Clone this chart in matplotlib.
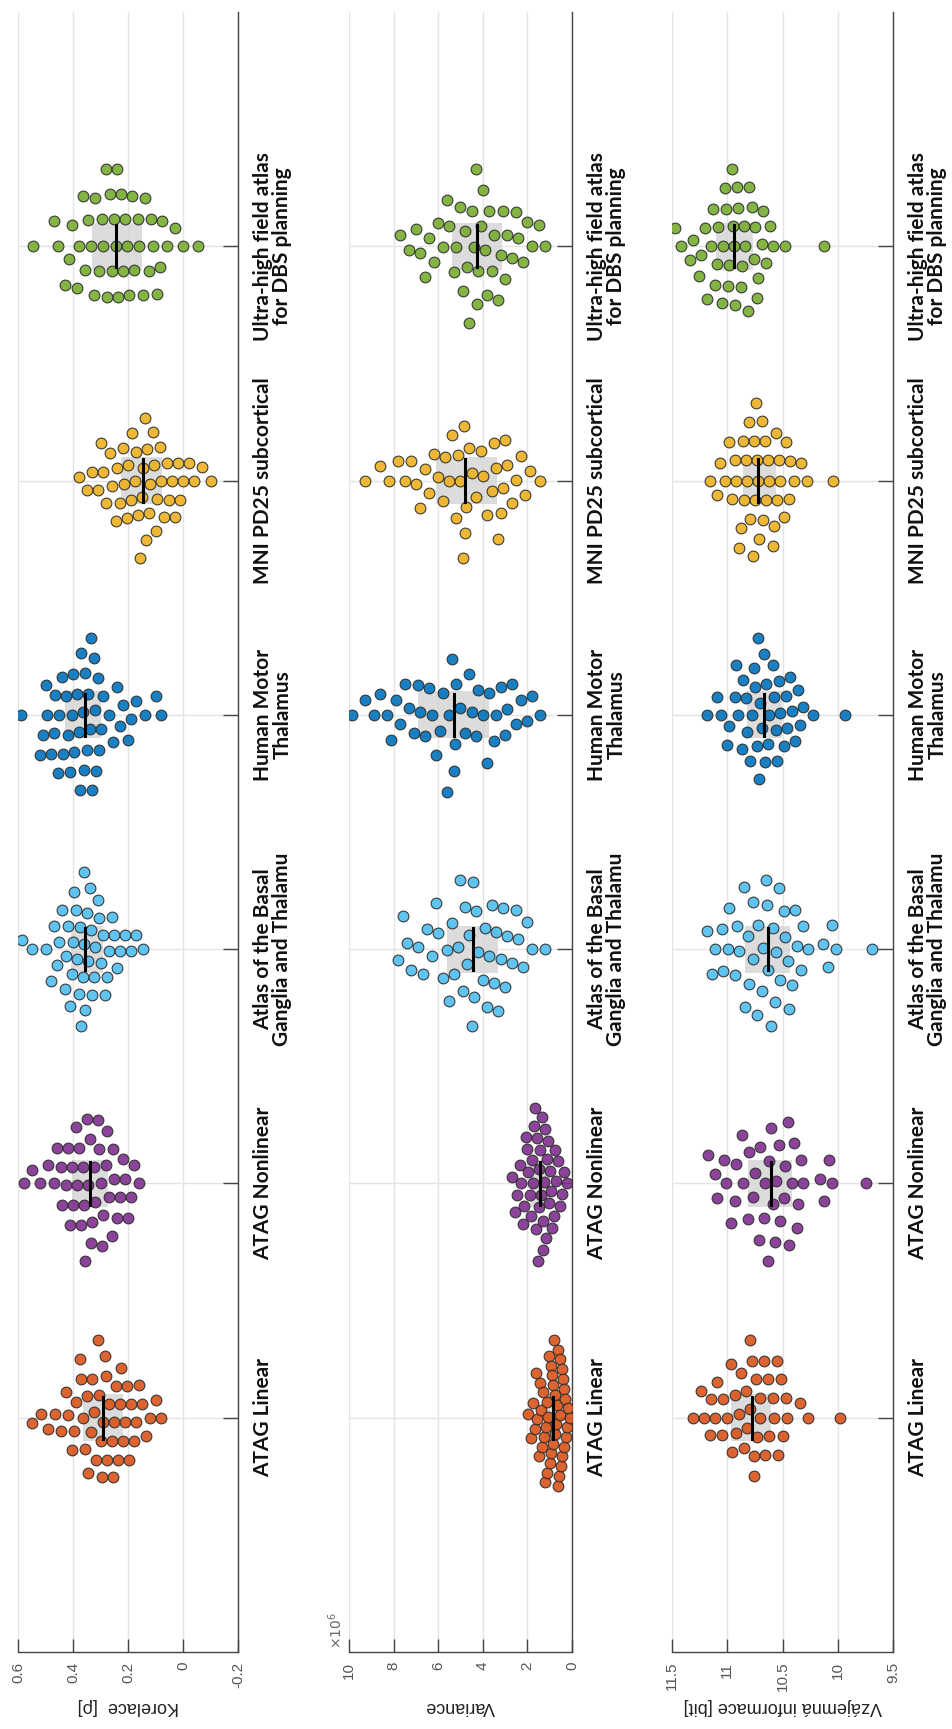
import matplotlib
matplotlib.use("Agg")
import matplotlib.pyplot as plt
import numpy as np

plt.rcParams['font.family'] = ['Liberation Sans', 'DejaVu Sans']
plt.rcParams['mathtext.fontset'] = 'dejavusans'

# atlases, bottom to top
atlases = ['ATAG Linear', 'ATAG Nonlinear', 'Atlas of the Basal\nGanglia and Thalamu',
           'Human Motor\nThalamus', 'MNI PD25 subcortical',
           'Ultra-high field atlas\nfor DBS planning']
colors = ['#D95319', '#7E2F8E', '#4DBEEE', '#0072BD', '#EDB120', '#77AC30']

# correlation [rho]
kor_atag_lin = [0.55, 0.515, 0.49, 0.465, 0.445, 0.425, 0.42, 0.405, 0.395, 0.39, 0.375, 0.37,
                0.365, 0.355, 0.35, 0.345, 0.335, 0.33, 0.325, 0.315, 0.31, 0.305, 0.3, 0.295,
                0.29, 0.285, 0.28, 0.275, 0.27, 0.26, 0.255, 0.25, 0.245, 0.235, 0.23, 0.225,
                0.22, 0.21, 0.205, 0.195, 0.19, 0.18, 0.17, 0.16, 0.15, 0.135, 0.12, 0.1, 0.08]
kor_atag_nonlin = [0.58, 0.55, 0.52, 0.49, 0.47, 0.46, 0.445, 0.44, 0.425, 0.42, 0.41, 0.405, 0.4,
                   0.39, 0.385, 0.38, 0.37, 0.365, 0.36, 0.355, 0.35, 0.345, 0.34, 0.335, 0.33,
                   0.325, 0.32, 0.31, 0.305, 0.3, 0.295, 0.29, 0.28, 0.275, 0.27, 0.26, 0.255,
                   0.25, 0.24, 0.23, 0.22, 0.21, 0.2, 0.19, 0.18, 0.16]
kor_basal = [0.585, 0.55, 0.50, 0.48, 0.47, 0.46, 0.45, 0.44, 0.43, 0.425, 0.42, 0.41, 0.405,
             0.4, 0.395, 0.39, 0.385, 0.38, 0.375, 0.37, 0.365, 0.36, 0.36, 0.355, 0.35, 0.345,
             0.34, 0.335, 0.33, 0.325, 0.32, 0.31, 0.305, 0.3, 0.29, 0.285, 0.275, 0.27, 0.26,
             0.25, 0.24, 0.23, 0.21, 0.19, 0.17, 0.145]
kor_hmt = [0.59, 0.52, 0.51, 0.5, 0.495, 0.48, 0.47, 0.465, 0.455, 0.45, 0.44, 0.435, 0.425,
           0.42, 0.41, 0.405, 0.4, 0.395, 0.385, 0.38, 0.375, 0.37, 0.365, 0.36, 0.355, 0.35,
           0.345, 0.34, 0.335, 0.33, 0.325, 0.32, 0.315, 0.31, 0.305, 0.3, 0.29, 0.27, 0.255,
           0.24, 0.23, 0.22, 0.2, 0.19, 0.17, 0.14, 0.1, 0.08]
kor_pd25 = [0.38, 0.35, 0.33, 0.31, 0.3, 0.29, 0.28, 0.265, 0.26, 0.245, 0.24, 0.23, 0.22, 0.215,
            0.205, 0.2, 0.19, 0.185, 0.175, 0.17, 0.165, 0.155, 0.15, 0.145, 0.14, 0.135, 0.13,
            0.125, 0.12, 0.11, 0.105, 0.1, 0.095, 0.085, 0.08, 0.07, 0.06, 0.05, 0.04, 0.03,
            0.02, 0.01, 0.0, -0.02, -0.04, -0.07, -0.1]
kor_uhf = [0.545, 0.47, 0.455, 0.43, 0.415, 0.405, 0.385, 0.38, 0.365, 0.355, 0.345, 0.335,
           0.325, 0.32, 0.305, 0.295, 0.29, 0.28, 0.275, 0.265, 0.26, 0.25, 0.245, 0.24, 0.235,
           0.225, 0.22, 0.21, 0.205, 0.195, 0.185, 0.18, 0.165, 0.16, 0.145, 0.14, 0.125,
           0.115, 0.11, 0.095, 0.085, 0.075, 0.06, 0.03, 0.0, -0.055]

# variance, in units of 1e6
var_atag_lin = [1.97, 1.85, 1.75, 1.68, 1.60, 1.55, 1.50, 1.45, 1.40, 1.35, 1.30, 1.26, 1.22, 1.18,
                1.14, 1.10, 1.06, 1.02, 0.98, 0.95, 0.92, 0.89, 0.86, 0.83, 0.80, 0.77, 0.74, 0.71,
                0.68, 0.65, 0.62, 0.59, 0.56, 0.53, 0.50, 0.47, 0.44, 0.41, 0.38, 0.35, 0.31, 0.27,
                0.22, 0.16, 0.09]
var_atag_nonlin = [2.69, 2.55, 2.45, 2.35, 2.28, 2.20, 2.14, 2.08, 2.02, 1.96, 1.90, 1.85, 1.80, 1.75,
                   1.70, 1.66, 1.62, 1.58, 1.54, 1.50, 1.47, 1.44, 1.40, 1.36, 1.32, 1.28, 1.24, 1.20,
                   1.16, 1.12, 1.08, 1.03, 0.98, 0.93, 0.88, 0.82, 0.76, 0.70, 0.62, 0.54, 0.45, 0.35,
                   0.22]
var_basal = [7.8, 7.6, 7.4, 7.2, 6.9, 6.7, 6.5, 6.3, 6.1, 6.0, 5.8, 5.6, 5.5, 5.4, 5.3, 5.1, 5.0,
             4.9, 4.8, 4.7, 4.6, 4.5, 4.45, 4.4, 4.3, 4.2, 4.0, 3.9, 3.8, 3.7, 3.6, 3.5, 3.4, 3.3,
             3.2, 3.1, 3.0, 2.9, 2.7, 2.5, 2.4, 2.2, 2.0, 1.8, 1.2]
var_hmt = [9.87, 9.3, 8.9, 8.6, 8.3, 8.1, 7.9, 7.7, 7.5, 7.3, 7.1, 6.9, 6.8, 6.6, 6.4, 6.3, 6.1,
           5.9, 5.8, 5.6, 5.5, 5.4, 5.3, 5.25, 5.2, 5.0, 4.8, 4.6, 4.5, 4.3, 4.2, 4.0, 3.8, 3.7,
           3.5, 3.4, 3.2, 3.0, 2.9, 2.7, 2.5, 2.3, 2.0, 1.8, 1.44]
var_pd25 = [9.3, 8.6, 8.2, 7.8, 7.5, 7.2, 7.0, 6.8, 6.6, 6.4, 6.2, 6.0, 5.8, 5.7, 5.5, 5.4, 5.2,
            5.1, 5.0, 4.9, 4.85, 4.8, 4.75, 4.6, 4.5, 4.3, 4.1, 4.0, 3.8, 3.6, 3.5, 3.4, 3.3, 3.2,
            3.1, 3.0, 2.9, 2.7, 2.5, 2.3, 2.1, 1.9, 1.44]
var_uhf = [7.7, 7.3, 7.0, 6.8, 6.6, 6.4, 6.2, 6.0, 5.8, 5.6, 5.5, 5.3, 5.2, 5.0, 4.9, 4.8, 4.7,
           4.6, 4.5, 4.4, 4.3, 4.26, 4.2, 4.1, 4.0, 3.9, 3.8, 3.7, 3.6, 3.5, 3.3, 3.2, 3.1, 3.0,
           2.9, 2.7, 2.5, 2.4, 2.2, 2.0, 1.8, 1.5, 1.2]

# mutual information [bit]
mi_atag_lin = [11.31, 11.24, 11.21, 11.16, 11.15, 11.11, 11.09, 11.05, 11.04, 11.0, 10.97, 10.96,
               10.93, 10.92, 10.89, 10.88, 10.85, 10.83, 10.82, 10.79, 10.79, 10.78, 10.76, 10.76,
               10.74, 10.73, 10.7, 10.7, 10.67, 10.66, 10.63, 10.62, 10.59, 10.58, 10.55, 10.54,
               10.51, 10.5, 10.47, 10.46, 10.34, 10.27, 9.98]
mi_atag_nonlin = [11.17, 11.11, 11.09, 11.03, 11.01, 10.97, 10.93, 10.92, 10.87, 10.86, 10.81, 10.8,
                  10.77, 10.75, 10.71, 10.7, 10.67, 10.66, 10.63, 10.62, 10.6, 10.59, 10.57, 10.56,
                  10.53, 10.52, 10.49, 10.48, 10.45, 10.44, 10.41, 10.4, 10.37, 10.36, 10.33, 10.31,
                  10.16, 10.12, 10.08, 10.05, 9.74]
mi_basal = [11.18, 11.14, 11.11, 11.05, 11.04, 10.99, 10.98, 10.93, 10.91, 10.89, 10.85, 10.84,
            10.81, 10.8, 10.77, 10.77, 10.73, 10.72, 10.69, 10.68, 10.65, 10.64, 10.63, 10.6,
            10.59, 10.57, 10.56, 10.53, 10.52, 10.49, 10.48, 10.45, 10.44, 10.41, 10.39, 10.37,
            10.33, 10.31, 10.27, 10.13, 10.09, 10.05, 10.02, 9.69]
mi_hmt = [11.18, 11.09, 11.06, 11.0, 10.98, 10.93, 10.92, 10.9, 10.87, 10.86, 10.83, 10.82, 10.79,
          10.78, 10.76, 10.75, 10.73, 10.72, 10.71, 10.7, 10.69, 10.67, 10.66, 10.65, 10.63, 10.62,
          10.59, 10.58, 10.56, 10.55, 10.53, 10.52, 10.49, 10.47, 10.46, 10.43, 10.41, 10.39,
          10.36, 10.34, 10.31, 10.22, 9.93]
mi_pd25 = [11.16, 11.09, 11.07, 11.02, 10.98, 10.96, 10.93, 10.92, 10.89, 10.88, 10.86, 10.85,
           10.83, 10.82, 10.8, 10.79, 10.77, 10.76, 10.75, 10.74, 10.73, 10.72, 10.71, 10.69,
           10.68, 10.66, 10.65, 10.63, 10.62, 10.59, 10.58, 10.56, 10.55, 10.53, 10.52, 10.49,
           10.47, 10.44, 10.43, 10.4, 10.33, 10.28, 10.04]
mi_uhf = [11.47, 11.42, 11.34, 11.31, 11.26, 11.24, 11.2, 11.18, 11.15, 11.13, 11.11, 11.09,
          11.08, 11.05, 11.04, 11.02, 11.01, 10.99, 10.98, 10.96, 10.95, 10.94, 10.93, 10.91,
          10.9, 10.88, 10.87, 10.85, 10.84, 10.81, 10.8, 10.78, 10.76, 10.75, 10.73, 10.72,
          10.69, 10.68, 10.65, 10.61, 10.59, 10.48, 10.12]

kor_data = [kor_atag_lin, kor_atag_nonlin, kor_basal, kor_hmt, kor_pd25, kor_uhf]
var_data = [var_atag_lin, var_atag_nonlin, var_basal, var_hmt, var_pd25, var_uhf]
mi_data = [mi_atag_lin, mi_atag_nonlin, mi_basal, mi_hmt, mi_pd25, mi_uhf]

kor_ticks = [0.6, 0.4, 0.2, 0, -0.2]
var_ticks = [10, 8, 6, 4, 2, 0]
mi_ticks = [11.5, 11, 10.5, 10, 9.5]


def swarm(pos_px, d):
    """Beeswarm offsets (pixels) for points at pos_px, keeping centres d apart."""
    offs = np.zeros(len(pos_px))
    placed = []
    for i in np.argsort(pos_px):
        p = pos_px[i]
        near = [(q, o) for q, o in placed if abs(q - p) < d]
        cands = [0.0]
        for q, o in near:
            h = np.sqrt(d * d - (q - p) ** 2)
            cands += [o + h, o - h]
        cands.sort(key=abs)
        for c in cands:
            if all((q - p) ** 2 + (o - c) ** 2 >= d * d - 1e-6 for q, o in near):
                offs[i] = c
                break
        placed.append((p, offs[i]))
    return offs


W, H = 953, 1729
fig = plt.figure(figsize=(W / 100, H / 100), dpi=100)

panels = [
    (18, 238, kor_data, kor_ticks, (0.6, -0.2), 'Korelace  [ρ]'),
    (349, 572, var_data, var_ticks, (10, 0), 'Variance'),
    (672, 893, mi_data, mi_ticks, (11.5, 9.5), 'Vzájemná informace [bit]'),
]
top, bottom = 12, 1652
spacing = 11.0      # px between swarm neighbours
half_width = 0.33   # widest offset of a swarm, in category units

for x0, x1, data, ticks, lims, label in panels:
    ax = fig.add_axes([x0 / W, (H - bottom) / H, (x1 - x0) / W, (bottom - top) / H])
    ax.set_xlim(*lims)
    ax.set_ylim(0, 7)
    px_val = (x1 - x0) / abs(lims[0] - lims[1])

    for k, (vals, col) in enumerate(zip(data, colors)):
        vals = np.asarray(vals)
        pos = k + 1
        q1, med, q3 = np.percentile(vals, [25, 50, 75])
        ax.fill_between([q1, q3], pos - 0.1, pos + 0.1, color='#d4d4d4', alpha=0.8,
                        lw=0, zorder=2)
        offs = swarm(vals * px_val, spacing)
        offs = offs / np.abs(offs).max() * half_width
        ax.scatter(vals, pos + offs, s=60, color=col, edgecolor='#2b2b2b', linewidth=0.8,
                   alpha=0.9, zorder=3)
        ax.plot([med, med], [pos - 0.09, pos + 0.09], color='black', lw=2.2, zorder=4)

    ax.set_xticks(ticks)
    ax.set_xticklabels([f'{t:g}' for t in ticks])
    ax.set_yticks(range(1, 7))
    ax.set_yticklabels(atlases)
    ax.yaxis.tick_right()
    for t in ax.get_yticklabels():
        t.set_rotation(90)
        t.set_ha('left')
        t.set_va('center')
        t.set_multialignment('center')
        t.set_fontweight('bold')
        t.set_fontfamily(['Lato', 'DejaVu Sans'])
        t.set_fontsize(15)
        t.set_color('#111111')
        t.set_linespacing(0.95)
    ax.tick_params(axis='x', direction='in', length=9.5, width=1, color='#444444',
                   labelrotation=90, labelsize=11, labelcolor='#555555', pad=7)
    ax.tick_params(axis='y', direction='in', length=11, width=1, color='#444444', pad=11)

    ax.grid(True, color='#e4e4e4', lw=1, zorder=0)
    ax.set_axisbelow(True)
    for s in ['top', 'left']:
        ax.spines[s].set_visible(False)
    for s in ['bottom', 'right']:
        ax.spines[s].set_color('#444444')
        ax.spines[s].set_linewidth(1)

    ax.set_xlabel(label, rotation=180, fontsize=13, color='#222222')
    ax.xaxis.set_label_coords(0.5, -55 / (bottom - top))
    ax.xaxis.label.set_va('center')

    if label == 'Variance':
        ax.annotate(r'$\times10^{6}$', xy=(0, 0), xycoords='axes fraction',
                    xytext=(-3, 2), textcoords='offset points', rotation=90,
                    ha='right', va='bottom', fontsize=10, color='#666666')

fig.savefig('out.png', dpi=100)
